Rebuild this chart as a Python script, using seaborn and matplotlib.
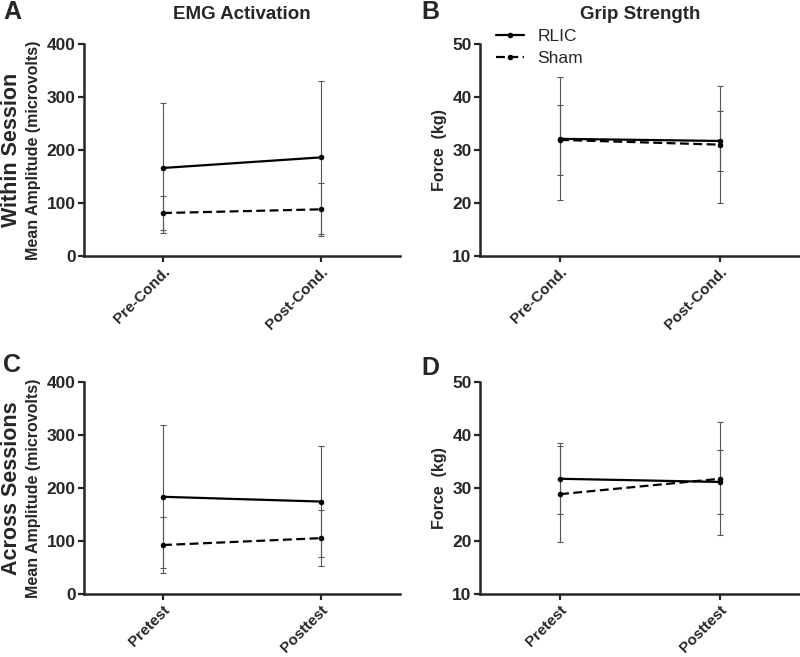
import numpy as np
import pandas as pd
import matplotlib.pyplot as plt
import seaborn as sns

# Group means and SDs
groups = ['RLIC', 'Sham']
within_times = ['Pre-Cond.', 'Post-Cond.']
across_times = ['Pretest', 'Posttest']

# EMG mean amplitude (microvolts)
emg_within_rlic = [166, 186]
emg_within_rlic_sd = [122, 145]
emg_within_sham = [81, 88]
emg_within_sham_sd = [32, 50]
emg_across_rlic = [184, 175]
emg_across_rlic_sd = [135, 104]
emg_across_sham = [93, 106]
emg_across_sham_sd = [52, 53]

# Grip strength force (kg)
grip_within_rlic = [32.1, 31.7]
grip_within_rlic_sd = [11.6, 5.7]
grip_within_sham = [31.9, 31.0]
grip_within_sham_sd = [6.6, 11.0]
grip_across_rlic = [31.8, 31.2]
grip_across_rlic_sd = [6.7, 6.0]
grip_across_sham = [28.9, 31.8]
grip_across_sham_sd = [9.1, 10.7]

sns.set_style('ticks')
plt.rcParams['font.family'] = ['Liberation Sans', 'DejaVu Sans']
plt.rcParams['font.weight'] = 'bold'


def panel(ax, times, rlic, rlic_sd, sham, sham_sd, ylim, yticks, ylabel, legend=False):
    pos = list(range(len(times)))
    df = pd.DataFrame({
        'pos': pos * 2,
        'value': rlic + sham,
        'sd': rlic_sd + sham_sd,
        'group': ['RLIC'] * len(times) + ['Sham'] * len(times),
    })
    for g, sub in df.groupby('group'):
        ax.errorbar(sub['pos'], sub['value'], yerr=sub['sd'], fmt='none',
                    ecolor='#555555', elinewidth=0.8, capsize=2, capthick=0.8, zorder=1)
    sns.lineplot(data=df, x='pos', y='value', style='group', style_order=groups,
                 color='black', markers=['o', 'o'], dashes=['', (4, 2)],
                 lw=1.6, markersize=4, markeredgewidth=0, ax=ax,
                 legend=legend, zorder=3)
    ax.set_xlim(-0.5, 1.5)
    ax.set_ylim(*ylim)
    ax.set_yticks(yticks)
    ax.set_xticks(pos)
    ax.set_xticklabels(times, rotation=45, ha='right', rotation_mode='anchor')
    ax.set_xlabel('')
    ax.set_ylabel(ylabel, fontsize=11.5, fontweight='bold', labelpad=4)
    sns.despine(ax=ax)
    for s in ['left', 'bottom']:
        ax.spines[s].set_linewidth(1.8)
    ax.tick_params(direction='out', length=4, width=1.6, labelsize=12.5, pad=2)
    ax.tick_params(axis='x', labelsize=11, pad=2)
    if legend:
        ax.legend(loc='upper left', bbox_to_anchor=(0.05, 1.07), frameon=False,
                  borderpad=0, borderaxespad=0, handlelength=1.6, handletextpad=0.8,
                  labelspacing=0.4, prop={'weight': 'normal', 'size': 12.5})


fig = plt.figure(figsize=(8, 6.57), dpi=100)
axA = fig.add_axes([0.105, 0.6104, 0.395, 0.3227])
axB = fig.add_axes([0.600, 0.6104, 0.400, 0.3227])
axC = fig.add_axes([0.105, 0.0954, 0.395, 0.3227])
axD = fig.add_axes([0.600, 0.0954, 0.400, 0.3227])

amp_label = 'Mean Amplitude (microvolts)'
force_label = 'Force  (kg)'
panel(axA, within_times, emg_within_rlic, emg_within_rlic_sd, emg_within_sham, emg_within_sham_sd,
      (0, 400), [0, 100, 200, 300, 400], amp_label)
panel(axB, within_times, grip_within_rlic, grip_within_rlic_sd, grip_within_sham, grip_within_sham_sd,
      (10, 50), [10, 20, 30, 40, 50], force_label, legend=True)
panel(axC, across_times, emg_across_rlic, emg_across_rlic_sd, emg_across_sham, emg_across_sham_sd,
      (0, 400), [0, 100, 200, 300, 400], amp_label)
panel(axD, across_times, grip_across_rlic, grip_across_rlic_sd, grip_across_sham, grip_across_sham_sd,
      (10, 50), [10, 20, 30, 40, 50], force_label)

axA.set_title('EMG Activation', fontsize=13.5, fontweight='bold', pad=18)
axB.set_title('Grip Strength', fontsize=13.5, fontweight='bold', pad=18)

# row labels
fig.text(0.014, 0.6104 + 0.3227 / 2, 'Within Session', rotation=90, fontsize=15.5,
         fontweight='bold', ha='center', va='center')
fig.text(0.014, 0.0954 + 0.3227 / 2, 'Across Sessions', rotation=90, fontsize=15.5,
         fontweight='bold', ha='center', va='center')

# panel letters
for x, y, t in [(0.004, 1.0, 'A'), (0.527, 1.0, 'B'), (0.004, 0.462, 'C'), (0.527, 0.458, 'D')]:
    fig.text(x, y, t, fontsize=18, fontweight='bold', ha='left', va='top')

fig.savefig('out.png', dpi=100)
